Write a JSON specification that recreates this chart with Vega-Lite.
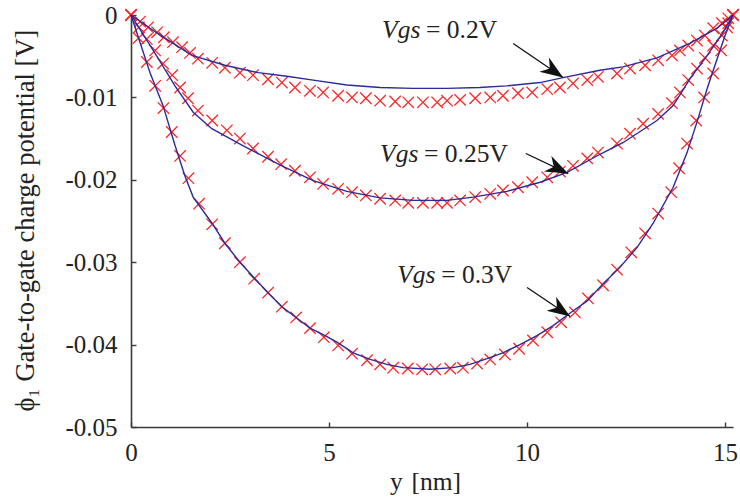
{
  "$schema": "https://vega.github.io/schema/vega-lite/v6.json",
  "width": 602,
  "height": 412,
  "autosize": {"type": "none"},
  "padding": {"left": 131, "top": 15, "right": 7, "bottom": 70},
  "background": "white",
  "config": {"view": {"stroke": null}, "font": "Liberation Serif"},
  "datasets": {
    "lines": [
      {"s": "0.2", "x": 0, "v": 0}, {"s": "0.2", "x": 0.69, "v": -0.0023}, {"s": "0.2", "x": 1.54, "v": -0.0049}, {"s": "0.2", "x": 2.37, "v": -0.0061}, {"s": "0.2", "x": 3.21, "v": -0.007}, {"s": "0.2", "x": 3.89, "v": -0.0074}, {"s": "0.2", "x": 4.6, "v": -0.0079}, {"s": "0.2", "x": 5.45, "v": -0.0085}, {"s": "0.2", "x": 6.29, "v": -0.0088}, {"s": "0.2", "x": 7.12, "v": -0.0089}, {"s": "0.2", "x": 7.98, "v": -0.0089}, {"s": "0.2", "x": 8.8, "v": -0.0088}, {"s": "0.2", "x": 9.49, "v": -0.0086}, {"s": "0.2", "x": 10.33, "v": -0.0082}, {"s": "0.2", "x": 10.91, "v": -0.0076}, {"s": "0.2", "x": 11.84, "v": -0.0067}, {"s": "0.2", "x": 12.42, "v": -0.0063}, {"s": "0.2", "x": 13.28, "v": -0.0052}, {"s": "0.2", "x": 14.12, "v": -0.0034}, {"s": "0.2", "x": 14.8, "v": -0.0016}, {"s": "0.2", "x": 15.2, "v": 0},
      {"s": "0.25", "x": 0, "v": 0}, {"s": "0.25", "x": 0.69, "v": -0.0053}, {"s": "0.25", "x": 1.11, "v": -0.0086}, {"s": "0.25", "x": 1.57, "v": -0.0118}, {"s": "0.25", "x": 2.04, "v": -0.0138}, {"s": "0.25", "x": 2.8, "v": -0.0158}, {"s": "0.25", "x": 3.81, "v": -0.0183}, {"s": "0.25", "x": 4.6, "v": -0.0201}, {"s": "0.25", "x": 5.45, "v": -0.0214}, {"s": "0.25", "x": 6.29, "v": -0.0222}, {"s": "0.25", "x": 7.12, "v": -0.0225}, {"s": "0.25", "x": 7.98, "v": -0.0225}, {"s": "0.25", "x": 8.64, "v": -0.0221}, {"s": "0.25", "x": 9.49, "v": -0.0214}, {"s": "0.25", "x": 10.33, "v": -0.0203}, {"s": "0.25", "x": 11.01, "v": -0.0191}, {"s": "0.25", "x": 11.84, "v": -0.0169}, {"s": "0.25", "x": 12.42, "v": -0.0155}, {"s": "0.25", "x": 13.28, "v": -0.0128}, {"s": "0.25", "x": 13.69, "v": -0.011}, {"s": "0.25", "x": 14.12, "v": -0.0077}, {"s": "0.25", "x": 14.55, "v": -0.0049}, {"s": "0.25", "x": 14.95, "v": -0.0021}, {"s": "0.25", "x": 15.2, "v": 0},
      {"s": "0.3", "x": 0, "v": 0}, {"s": "0.3", "x": 0.48, "v": -0.007}, {"s": "0.3", "x": 0.81, "v": -0.011}, {"s": "0.3", "x": 1.11, "v": -0.0158}, {"s": "0.3", "x": 1.36, "v": -0.0195}, {"s": "0.3", "x": 1.57, "v": -0.0221}, {"s": "0.3", "x": 2.05, "v": -0.0253}, {"s": "0.3", "x": 2.37, "v": -0.0277}, {"s": "0.3", "x": 2.75, "v": -0.03}, {"s": "0.3", "x": 3.13, "v": -0.032}, {"s": "0.3", "x": 3.46, "v": -0.0337}, {"s": "0.3", "x": 3.81, "v": -0.0354}, {"s": "0.3", "x": 4.19, "v": -0.0368}, {"s": "0.3", "x": 4.52, "v": -0.038}, {"s": "0.3", "x": 4.9, "v": -0.0389}, {"s": "0.3", "x": 5.2, "v": -0.0397}, {"s": "0.3", "x": 5.61, "v": -0.041}, {"s": "0.3", "x": 6.04, "v": -0.0418}, {"s": "0.3", "x": 6.46, "v": -0.0424}, {"s": "0.3", "x": 6.87, "v": -0.0428}, {"s": "0.3", "x": 7.55, "v": -0.043}, {"s": "0.3", "x": 8.13, "v": -0.0428}, {"s": "0.3", "x": 8.56, "v": -0.0424}, {"s": "0.3", "x": 8.99, "v": -0.0417}, {"s": "0.3", "x": 9.39, "v": -0.041}, {"s": "0.3", "x": 9.82, "v": -0.04}, {"s": "0.3", "x": 10.25, "v": -0.0389}, {"s": "0.3", "x": 10.66, "v": -0.0377}, {"s": "0.3", "x": 11.08, "v": -0.0362}, {"s": "0.3", "x": 11.52, "v": -0.0347}, {"s": "0.3", "x": 11.92, "v": -0.0326}, {"s": "0.3", "x": 12.35, "v": -0.0306}, {"s": "0.3", "x": 12.78, "v": -0.0282}, {"s": "0.3", "x": 13.18, "v": -0.0253}, {"s": "0.3", "x": 13.69, "v": -0.0209}, {"s": "0.3", "x": 14.04, "v": -0.0167}, {"s": "0.3", "x": 14.29, "v": -0.013}, {"s": "0.3", "x": 14.55, "v": -0.0089}, {"s": "0.3", "x": 14.8, "v": -0.0053}, {"s": "0.3", "x": 15.0, "v": -0.0025}, {"s": "0.3", "x": 15.2, "v": 0}
    ],
    "marks": [
      {"s": "0.2", "x": 0, "v": 0}, {"s": "0.2", "x": 0.23, "v": -0.0008}, {"s": "0.2", "x": 0.43, "v": -0.0015}, {"s": "0.2", "x": 0.66, "v": -0.0021}, {"s": "0.2", "x": 0.83, "v": -0.0027}, {"s": "0.2", "x": 1.06, "v": -0.0033}, {"s": "0.2", "x": 1.29, "v": -0.0039}, {"s": "0.2", "x": 1.49, "v": -0.0046}, {"s": "0.2", "x": 1.69, "v": -0.0053}, {"s": "0.2", "x": 2.05, "v": -0.0058}, {"s": "0.2", "x": 2.37, "v": -0.0064}, {"s": "0.2", "x": 2.75, "v": -0.007}, {"s": "0.2", "x": 3.08, "v": -0.0073}, {"s": "0.2", "x": 3.46, "v": -0.0078}, {"s": "0.2", "x": 3.81, "v": -0.0082}, {"s": "0.2", "x": 4.14, "v": -0.0088}, {"s": "0.2", "x": 4.52, "v": -0.0092}, {"s": "0.2", "x": 4.85, "v": -0.0094}, {"s": "0.2", "x": 5.23, "v": -0.0098}, {"s": "0.2", "x": 5.58, "v": -0.01}, {"s": "0.2", "x": 5.93, "v": -0.0101}, {"s": "0.2", "x": 6.29, "v": -0.0104}, {"s": "0.2", "x": 6.67, "v": -0.0105}, {"s": "0.2", "x": 7.0, "v": -0.0106}, {"s": "0.2", "x": 7.37, "v": -0.0106}, {"s": "0.2", "x": 7.73, "v": -0.0106}, {"s": "0.2", "x": 7.98, "v": -0.0104}, {"s": "0.2", "x": 8.31, "v": -0.0103}, {"s": "0.2", "x": 8.69, "v": -0.0101}, {"s": "0.2", "x": 9.07, "v": -0.01}, {"s": "0.2", "x": 9.39, "v": -0.0098}, {"s": "0.2", "x": 9.77, "v": -0.0095}, {"s": "0.2", "x": 10.13, "v": -0.0094}, {"s": "0.2", "x": 10.51, "v": -0.009}, {"s": "0.2", "x": 10.83, "v": -0.0088}, {"s": "0.2", "x": 11.16, "v": -0.0083}, {"s": "0.2", "x": 11.52, "v": -0.0079}, {"s": "0.2", "x": 11.79, "v": -0.0075}, {"s": "0.2", "x": 12.27, "v": -0.0071}, {"s": "0.2", "x": 12.6, "v": -0.0065}, {"s": "0.2", "x": 12.98, "v": -0.0061}, {"s": "0.2", "x": 13.31, "v": -0.0055}, {"s": "0.2", "x": 13.66, "v": -0.0049}, {"s": "0.2", "x": 13.86, "v": -0.0043}, {"s": "0.2", "x": 14.07, "v": -0.0037}, {"s": "0.2", "x": 14.29, "v": -0.0031}, {"s": "0.2", "x": 14.49, "v": -0.0025}, {"s": "0.2", "x": 14.7, "v": -0.0016}, {"s": "0.2", "x": 14.92, "v": -0.001}, {"s": "0.2", "x": 15.08, "v": -0.0004}, {"s": "0.2", "x": 15.2, "v": 0},
      {"s": "0.25", "x": 0, "v": 0}, {"s": "0.25", "x": 0.2, "v": -0.0015}, {"s": "0.25", "x": 0.4, "v": -0.0029}, {"s": "0.25", "x": 0.61, "v": -0.0043}, {"s": "0.25", "x": 0.81, "v": -0.0059}, {"s": "0.25", "x": 1.04, "v": -0.0073}, {"s": "0.25", "x": 1.24, "v": -0.0088}, {"s": "0.25", "x": 1.44, "v": -0.0101}, {"s": "0.25", "x": 1.69, "v": -0.0116}, {"s": "0.25", "x": 2.05, "v": -0.0128}, {"s": "0.25", "x": 2.42, "v": -0.014}, {"s": "0.25", "x": 2.75, "v": -0.015}, {"s": "0.25", "x": 3.08, "v": -0.0162}, {"s": "0.25", "x": 3.46, "v": -0.0172}, {"s": "0.25", "x": 3.79, "v": -0.0181}, {"s": "0.25", "x": 4.14, "v": -0.0189}, {"s": "0.25", "x": 4.52, "v": -0.0197}, {"s": "0.25", "x": 4.85, "v": -0.0205}, {"s": "0.25", "x": 5.23, "v": -0.0211}, {"s": "0.25", "x": 5.58, "v": -0.0215}, {"s": "0.25", "x": 5.93, "v": -0.0219}, {"s": "0.25", "x": 6.29, "v": -0.0223}, {"s": "0.25", "x": 6.67, "v": -0.0225}, {"s": "0.25", "x": 7.0, "v": -0.0228}, {"s": "0.25", "x": 7.37, "v": -0.0228}, {"s": "0.25", "x": 7.73, "v": -0.0228}, {"s": "0.25", "x": 7.98, "v": -0.0228}, {"s": "0.25", "x": 8.31, "v": -0.0225}, {"s": "0.25", "x": 8.69, "v": -0.0221}, {"s": "0.25", "x": 9.07, "v": -0.0217}, {"s": "0.25", "x": 9.39, "v": -0.0213}, {"s": "0.25", "x": 9.77, "v": -0.0209}, {"s": "0.25", "x": 10.13, "v": -0.0203}, {"s": "0.25", "x": 10.51, "v": -0.0197}, {"s": "0.25", "x": 10.83, "v": -0.019}, {"s": "0.25", "x": 11.16, "v": -0.0183}, {"s": "0.25", "x": 11.52, "v": -0.0174}, {"s": "0.25", "x": 11.79, "v": -0.0167}, {"s": "0.25", "x": 12.27, "v": -0.0156}, {"s": "0.25", "x": 12.6, "v": -0.0144}, {"s": "0.25", "x": 12.93, "v": -0.0132}, {"s": "0.25", "x": 13.31, "v": -0.012}, {"s": "0.25", "x": 13.66, "v": -0.0107}, {"s": "0.25", "x": 13.86, "v": -0.0094}, {"s": "0.25", "x": 14.07, "v": -0.0079}, {"s": "0.25", "x": 14.29, "v": -0.0065}, {"s": "0.25", "x": 14.49, "v": -0.0052}, {"s": "0.25", "x": 14.7, "v": -0.0037}, {"s": "0.25", "x": 14.92, "v": -0.0025}, {"s": "0.25", "x": 15.08, "v": -0.001}, {"s": "0.25", "x": 15.2, "v": 0},
      {"s": "0.3", "x": 0, "v": 0}, {"s": "0.3", "x": 0.19, "v": -0.0028}, {"s": "0.3", "x": 0.4, "v": -0.0057}, {"s": "0.3", "x": 0.61, "v": -0.0086}, {"s": "0.3", "x": 0.82, "v": -0.0113}, {"s": "0.3", "x": 1.03, "v": -0.0142}, {"s": "0.3", "x": 1.24, "v": -0.0171}, {"s": "0.3", "x": 1.45, "v": -0.0198}, {"s": "0.3", "x": 1.72, "v": -0.0229}, {"s": "0.3", "x": 2.05, "v": -0.0254}, {"s": "0.3", "x": 2.37, "v": -0.0277}, {"s": "0.3", "x": 2.75, "v": -0.03}, {"s": "0.3", "x": 3.11, "v": -0.032}, {"s": "0.3", "x": 3.46, "v": -0.0337}, {"s": "0.3", "x": 3.81, "v": -0.0354}, {"s": "0.3", "x": 4.17, "v": -0.0367}, {"s": "0.3", "x": 4.52, "v": -0.038}, {"s": "0.3", "x": 4.87, "v": -0.0391}, {"s": "0.3", "x": 5.23, "v": -0.0401}, {"s": "0.3", "x": 5.58, "v": -0.0411}, {"s": "0.3", "x": 5.96, "v": -0.0419}, {"s": "0.3", "x": 6.29, "v": -0.0424}, {"s": "0.3", "x": 6.62, "v": -0.0428}, {"s": "0.3", "x": 6.99, "v": -0.0429}, {"s": "0.3", "x": 7.35, "v": -0.043}, {"s": "0.3", "x": 7.68, "v": -0.043}, {"s": "0.3", "x": 8.06, "v": -0.0429}, {"s": "0.3", "x": 8.38, "v": -0.0428}, {"s": "0.3", "x": 8.74, "v": -0.0423}, {"s": "0.3", "x": 9.07, "v": -0.0418}, {"s": "0.3", "x": 9.44, "v": -0.0412}, {"s": "0.3", "x": 9.8, "v": -0.0405}, {"s": "0.3", "x": 10.15, "v": -0.0395}, {"s": "0.3", "x": 10.51, "v": -0.0385}, {"s": "0.3", "x": 10.86, "v": -0.0373}, {"s": "0.3", "x": 11.21, "v": -0.0361}, {"s": "0.3", "x": 11.54, "v": -0.0344}, {"s": "0.3", "x": 11.92, "v": -0.0328}, {"s": "0.3", "x": 12.27, "v": -0.0309}, {"s": "0.3", "x": 12.63, "v": -0.0288}, {"s": "0.3", "x": 12.98, "v": -0.0265}, {"s": "0.3", "x": 13.31, "v": -0.0241}, {"s": "0.3", "x": 13.64, "v": -0.0215}, {"s": "0.3", "x": 13.84, "v": -0.0186}, {"s": "0.3", "x": 14.04, "v": -0.0156}, {"s": "0.3", "x": 14.27, "v": -0.0128}, {"s": "0.3", "x": 14.47, "v": -0.01}, {"s": "0.3", "x": 14.7, "v": -0.0071}, {"s": "0.3", "x": 14.9, "v": -0.0043}, {"s": "0.3", "x": 15.05, "v": -0.0015}, {"s": "0.3", "x": 15.2, "v": 0}
    ],
    "notes": [
      {"s": "0.2", "vgs": "Vgs", "rest": "= 0.2V", "x": 6.34, "v": -0.00285, "ax": 9.65, "av": -0.00346, "tx": 10.91, "tv": -0.00758, "angle": 34},
      {"s": "0.25", "vgs": "Vgs", "rest": "= 0.25V", "x": 6.29, "v": -0.0179, "ax": 9.97, "av": -0.01681, "tx": 11.04, "tv": -0.01924, "angle": 25.5},
      {"s": "0.3", "vgs": "Vgs", "rest": "= 0.3V", "x": 6.72, "v": -0.0325, "ax": 10.0, "av": -0.03307, "tx": 11.09, "tv": -0.03659, "angle": 34}
    ],
    "xtitle": [
      {"t": "y", "x": 6.54, "v": -0.0577},
      {"t": "[nm]", "x": 7.08, "v": -0.0577}
    ]
  },
  "layer": [
    {
      "data": {"name": "marks"},
      "mark": {"type": "point", "shape": "M-1,-1L1,1M-1,1L1,-1", "size": 130, "filled": false, "stroke": "#ff2626", "strokeWidth": 1.3, "opacity": 1},
      "encoding": {
        "x": {"field": "x", "type": "quantitative", "scale": {"domain": [0, 15.2], "nice": false, "zero": false},
          "axis": {"values": [0, 5, 10, 15], "title": null, "grid": false, "tickSize": -5, "labelPadding": 18, "domainColor": "#3a3a3a", "domainWidth": 1.6, "tickColor": "#3a3a3a", "tickWidth": 1.4, "labelFontSize": 25, "labelFont": "Liberation Serif", "labelColor": "#222", "labelFlush": false, "labelBaseline": "top"}},
        "y": {"field": "v", "type": "quantitative", "scale": {"domain": [-0.05, 0], "nice": false, "zero": false},
          "axis": {"values": [0, -0.01, -0.02, -0.03, -0.04, -0.05], "labelExpr": "datum.value == 0 ? '0' : '-' + format(-datum.value, '.2f')", "title": "ϕ₁ Gate-to-gate charge potential [V]", "titleFont": "Liberation Serif", "titleFontSize": 26.5, "titleFontWeight": "normal", "titleColor": "#222", "titleX": -106, "titleY": 205, "titleAngle": 270, "titleAlign": "center", "titleBaseline": "middle", "grid": false, "tickSize": -5, "labelPadding": 19, "domainColor": "#3a3a3a", "domainWidth": 1.6, "tickColor": "#3a3a3a", "tickWidth": 1.4, "labelFontSize": 25, "labelFont": "Liberation Serif", "labelColor": "#222", "labelFlush": false}},
        "detail": {"field": "s"}
      }
    },
    {
      "data": {"name": "lines"},
      "mark": {"type": "line", "color": "#2a2a9c", "strokeWidth": 1.4},
      "encoding": {
        "x": {"field": "x", "type": "quantitative"},
        "y": {"field": "v", "type": "quantitative"},
        "detail": {"field": "s"}
      }
    },
    {
      "data": {"name": "notes"},
      "mark": {"type": "rule", "color": "#111", "strokeWidth": 1.3},
      "encoding": {
        "x": {"field": "ax", "type": "quantitative"},
        "y": {"field": "av", "type": "quantitative"},
        "x2": {"field": "tx"},
        "y2": {"field": "tv"}
      }
    },
    {
      "data": {"name": "notes"},
      "mark": {"type": "point", "shape": "M0,0L-2,-0.75L-1.4,0L-2,0.75Z", "size": 520, "filled": true, "color": "#111", "opacity": 1},
      "encoding": {
        "x": {"field": "tx", "type": "quantitative"},
        "y": {"field": "tv", "type": "quantitative"},
        "angle": {"field": "angle", "type": "quantitative", "scale": null}
      }
    },
    {
      "data": {"name": "notes"},
      "mark": {"type": "text", "font": "Liberation Serif", "fontSize": 25.5, "fontStyle": "italic", "align": "left", "baseline": "alphabetic", "color": "#222"},
      "encoding": {
        "x": {"field": "x", "type": "quantitative"},
        "y": {"field": "v", "type": "quantitative"},
        "text": {"field": "vgs"}
      }
    },
    {
      "data": {"name": "notes"},
      "mark": {"type": "text", "font": "Liberation Serif", "fontSize": 25.5, "align": "left", "baseline": "alphabetic", "dx": 44, "color": "#222"},
      "encoding": {
        "x": {"field": "x", "type": "quantitative"},
        "y": {"field": "v", "type": "quantitative"},
        "text": {"field": "rest"}
      }
    },
    {
      "data": {"name": "xtitle"},
      "mark": {"type": "text", "font": "Liberation Serif", "fontSize": 25.5, "align": "left", "baseline": "alphabetic", "color": "#222"},
      "encoding": {
        "x": {"field": "x", "type": "quantitative"},
        "y": {"field": "v", "type": "quantitative"},
        "text": {"field": "t"},
        "fontStyle": {"condition": {"test": "datum.t == 'y'", "value": "italic"}, "value": "normal"}
      }
    }
  ]
}
